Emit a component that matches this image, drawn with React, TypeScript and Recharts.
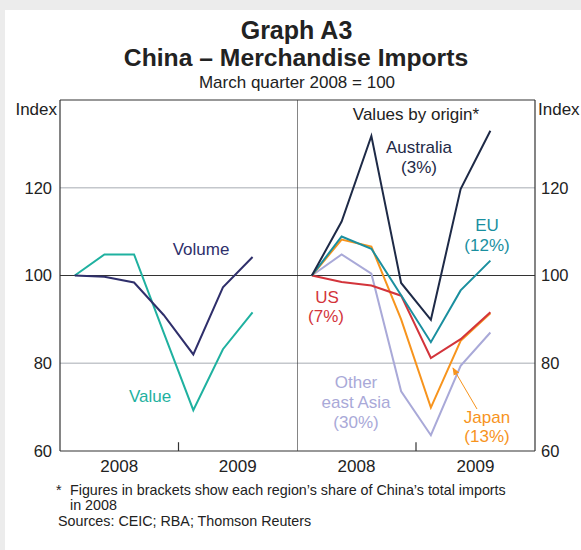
import { LineChart, Line, XAxis, YAxis, ReferenceLine } from 'recharts'

const quarters = ['Mar 08', 'Jun 08', 'Sep 08', 'Dec 08', 'Mar 09', 'Jun 09', 'Sep 09']
const years = ['2008', '2009']
const yTicks = [60, 80, 100, 120]

// left panel
const volume = [100, 99.7, 98.4, 91, 82, 97.3, 104.2]
const value = [100, 104.8, 104.8, 87, 69.3, 83.2, 91.6]

// right panel, values by origin
const australia = [100, 112.3, 131.8, 98.3, 89.9, 119.7, 133]
const eu = [100, 108.9, 106.1, 95.5, 84.8, 96.6, 103.4]
const japan = [100, 108.2, 106.6, 90, 69.9, 85.1, 91.4]
const us = [100, 98.5, 97.7, 95.4, 81.2, 85.5, 91.6]
const otherEastAsia = [100, 104.8, 100.4, 73.6, 63.6, 79.4, 87]

const leftData = quarters.map((q, i) => ({ q, x: i + 0.5, volume: volume[i], value: value[i] }))
const rightData = quarters.map((q, i) => ({
  q,
  x: i + 0.5,
  australia: australia[i],
  eu: eu[i],
  japan: japan[i],
  us: us[i],
  other: otherEastAsia[i],
}))

const yearTicks = years.map((_, i) => 2 + i * 4)
const FONT = '"Liberation Sans", Arial, sans-serif'
const AXIS = '#333'
const GRID = '#c4c7cc'
const tickStyle = { fontSize: 16.5, fill: '#222', fontFamily: FONT }

function Note({ x, y, color, size = 17, children }: { x: number; y: number; color: string; size?: number; children: any }) {
  return (
    <div
      style={{
        position: 'absolute',
        left: x,
        top: y,
        transform: 'translate(-50%, -50%)',
        color,
        fontSize: size,
        lineHeight: `${size}px`,
        whiteSpace: 'nowrap',
        textAlign: 'center',
      }}
    >
      {children}
    </div>
  )
}

function frame() {
  return [
    <ReferenceLine key="g80" y={80} stroke={GRID} strokeWidth={1.5} />,
    <ReferenceLine key="g120" y={120} stroke={GRID} strokeWidth={1.5} />,
    <ReferenceLine key="g100" y={100} stroke={AXIS} strokeWidth={1.2} />,
    <ReferenceLine key="top" y={140} stroke={AXIS} strokeWidth={1.2} />,
    <ReferenceLine
      key="mid"
      segment={[{ x: 4, y: 60 }, { x: 4, y: 62 }]}
      stroke={AXIS}
      strokeWidth={1.2}
    />,
  ]
}

const xAxisProps = {
  dataKey: 'x',
  type: 'number' as const,
  domain: [0, 8],
  ticks: yearTicks,
  tickFormatter: (v: number) => years[(v - 2) / 4],
  tickLine: false,
  tickSize: 0,
  tickMargin: 9,
  height: 29,
  axisLine: { stroke: AXIS, strokeWidth: 1.2 },
  tick: { ...tickStyle, fontSize: 17 },
  allowDataOverflow: true,
}

export default function App() {
  return (
    <div
      style={{
        position: 'absolute',
        left: 0,
        top: 0,
        width: 581,
        height: 550,
        background: '#ececec',
        overflow: 'hidden',
        fontFamily: FONT,
        color: '#222',
      }}
    >
      <div style={{ position: 'absolute', left: 5, top: 10, width: 576, height: 540, background: '#fff' }} />

      <Note x={296.5} y={30} color="#222" size={25}>
        <b>Graph A3</b>
      </Note>
      <Note x={296} y={58} color="#222" size={24.7}>
        <b>China – Merchandise Imports</b>
      </Note>
      <Note x={297} y={82} color="#222" size={17}>
        March quarter 2008 = 100
      </Note>

      <div style={{ position: 'absolute', left: 0, top: 0 }}>
        <LineChart width={297} height={480} data={leftData} margin={{ top: 100, right: 0, bottom: 0, left: 0 }}>
          <XAxis {...xAxisProps} />
          <YAxis
            domain={[60, 140]}
            ticks={yTicks}
            width={60}
            tickLine={false}
            tickSize={0}
            tickMargin={8}
            axisLine={{ stroke: AXIS, strokeWidth: 1.2 }}
            tick={tickStyle}
            allowDataOverflow
          />
          {frame()}
          <Line type="linear" dataKey="value" stroke="#1fb1a0" strokeWidth={2} dot={false} isAnimationActive={false} />
          <Line type="linear" dataKey="volume" stroke="#2f2f6b" strokeWidth={2} dot={false} isAnimationActive={false} />
        </LineChart>
      </div>

      <div style={{ position: 'absolute', left: 297, top: 0 }}>
        <LineChart width={284} height={480} data={rightData} margin={{ top: 100, right: 0, bottom: 0, left: 0 }}>
          <XAxis {...xAxisProps} />
          <YAxis
            orientation="right"
            domain={[60, 140]}
            ticks={yTicks}
            width={46}
            tickLine={false}
            tickSize={0}
            tickMargin={6}
            axisLine={{ stroke: AXIS, strokeWidth: 1.2 }}
            tick={tickStyle}
            allowDataOverflow
          />
          {frame()}
          <ReferenceLine x={0} stroke={AXIS} strokeWidth={1.2} />
          <Line type="linear" dataKey="other" stroke="#a9a9d8" strokeWidth={2} dot={false} isAnimationActive={false} />
          <Line type="linear" dataKey="japan" stroke="#f7941d" strokeWidth={2} dot={false} isAnimationActive={false} />
          <Line type="linear" dataKey="us" stroke="#d3343b" strokeWidth={2} dot={false} isAnimationActive={false} />
          <Line type="linear" dataKey="eu" stroke="#1a8f9f" strokeWidth={2} dot={false} isAnimationActive={false} />
          <Line type="linear" dataKey="australia" stroke="#1e2a47" strokeWidth={2} dot={false} isAnimationActive={false} />
        </LineChart>
      </div>

      <div style={{ position: 'absolute', right: 581 - 57, top: 101, fontSize: 17, lineHeight: '17px' }}>Index</div>
      <div style={{ position: 'absolute', left: 538, top: 101, fontSize: 17, lineHeight: '17px' }}>Index</div>

      <Note x={201} y={249} color="#2f2f6b">Volume</Note>
      <Note x={150} y={396} color="#1fb1a0">Value</Note>

      <Note x={416} y={114} color="#222">Values by origin*</Note>
      <Note x={419} y={147} color="#1e2a47">Australia</Note>
      <Note x={419} y={167} color="#1e2a47">(3%)</Note>
      <Note x={487} y={225} color="#1a8f9f">EU</Note>
      <Note x={487} y={245} color="#1a8f9f">(12%)</Note>
      <Note x={327} y={297} color="#d3343b">US</Note>
      <Note x={326} y={316} color="#d3343b">(7%)</Note>
      <Note x={356} y={382} color="#a9a9d8">Other</Note>
      <Note x={356} y={402} color="#a9a9d8">east Asia</Note>
      <Note x={356} y={422} color="#a9a9d8">(30%)</Note>
      <Note x={487} y={417} color="#f7941d">Japan</Note>
      <Note x={487} y={436} color="#f7941d">(13%)</Note>

      <svg width={581} height={550} style={{ position: 'absolute', left: 0, top: 0, pointerEvents: 'none' }}>
        <defs>
          <marker id="ah" markerWidth="8" markerHeight="8" refX="7" refY="4" orient="auto" markerUnits="userSpaceOnUse">
            <path d="M0,0.8 L8,4 L0,7.2 Z" fill="#f7941d" />
          </marker>
        </defs>
        <line x1={477} y1={409} x2={453} y2={368} stroke="#f7941d" strokeWidth={1} markerEnd="url(#ah)" />
      </svg>

      <div style={{ position: 'absolute', left: 56, top: 483, fontSize: 14.3, lineHeight: '15px' }}>*</div>
      <div style={{ position: 'absolute', left: 70, top: 483, fontSize: 14.3, lineHeight: '15px' }}>
        Figures in brackets show each region’s share of China’s total imports
        <br />
        in 2008
      </div>
      <div style={{ position: 'absolute', left: 58, top: 514, fontSize: 14.3, lineHeight: '15px' }}>
        Sources: CEIC; RBA; Thomson Reuters
      </div>
    </div>
  )
}
